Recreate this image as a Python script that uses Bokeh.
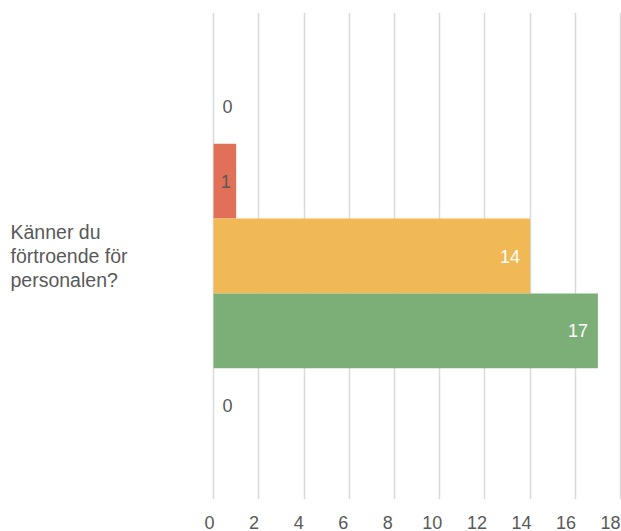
from bokeh.plotting import figure
from bokeh.models import ColumnDataSource, FactorRange, Range1d, FixedTicker, Label, LinearAxis
from bokeh.transform import dodge
from bokeh.core.properties import value
from bokeh.embed import file_html
from bokeh.resources import INLINE

category = "Känner du förtroende för personalen?"
category_lines = ["Känner du", "förtroende för", "personalen?"]
series_values = [0, 1, 14, 17, 0]
series_colors = ["#B5332E", "#E07058", "#F1B955", "#7BAF77", "#3E7B3A"]
x_ticks = [0, 2, 4, 6, 8, 10, 12, 14, 16, 18]

FONT = "Liberation Sans"
GRAY = "#595959"

# frame spans whole width; value axis starts at ~213px
p = figure(width=621, height=531, output_backend="svg", toolbar_location=None,
           y_range=FactorRange(factors=[category]), x_range=Range1d(-9.425, 18.044))
p.min_border_left = 0
p.min_border_right = 0
p.min_border_top = 12
p.min_border_bottom = 31
p.outline_line_color = None
p.background_fill_color = "white"
p.border_fill_color = "white"

# label axis on a slightly different scale (as in the reference)
p.extra_x_ranges = {"lab": Range1d(-9.38, 18.49)}

n = len(series_values)
bar_h = 0.1537
offsets = [((n - 1) / 2 - i) * bar_h for i in range(n)]

for i, (v, c, off) in enumerate(zip(series_values, series_colors, offsets)):
    src = ColumnDataSource(dict(cat=[category], val=[v], half=[v / 2], lab=[str(v)]))
    ycoord = dodge("cat", off, range=p.y_range)
    if v > 0:
        p.hbar(y=ycoord, left=0, right="val", height=bar_h,
               source=src, fill_color=c, line_color=None)
    common = dict(y=ycoord, text="lab", source=src, text_baseline="middle",
                  text_font=value(FONT), text_font_size="18px")
    if v == 0:
        p.text(x="val", text_align="left", x_offset=9, text_color=GRAY, **common)
    elif v < 2:
        p.text(x="half", text_align="center", x_offset=1, text_color=GRAY, **common)
    else:
        p.text(x="val", text_align="right", x_offset=-10, text_color="white", **common)

for j, line in enumerate(category_lines):
    p.add_layout(Label(x=10, x_units="canvas", y=0.5, y_units="data",
                       y_offset=(1 - j) * 24, text=line, text_align="left",
                       text_baseline="middle", text_font=FONT,
                       text_font_size="19.5px", text_color=GRAY))

main_axis = p.xaxis[0]
main_axis.ticker = FixedTicker(ticks=x_ticks)
main_axis.visible = False
p.yaxis.visible = False
p.ygrid.grid_line_color = None
p.xgrid.ticker = FixedTicker(ticks=x_ticks)
p.xgrid.grid_line_color = "#d9d9d9"
p.xgrid.grid_line_width = 1.5

lab_axis = LinearAxis(x_range_name="lab", ticker=FixedTicker(ticks=x_ticks))
lab_axis.axis_line_color = None
lab_axis.major_tick_line_color = None
lab_axis.minor_tick_line_color = None
lab_axis.major_label_standoff = 10
lab_axis.major_label_text_font = FONT
lab_axis.major_label_text_font_size = "18px"
lab_axis.major_label_text_color = GRAY
p.add_layout(lab_axis, "below")

open("out.html", "w").write(file_html(p, INLINE))
